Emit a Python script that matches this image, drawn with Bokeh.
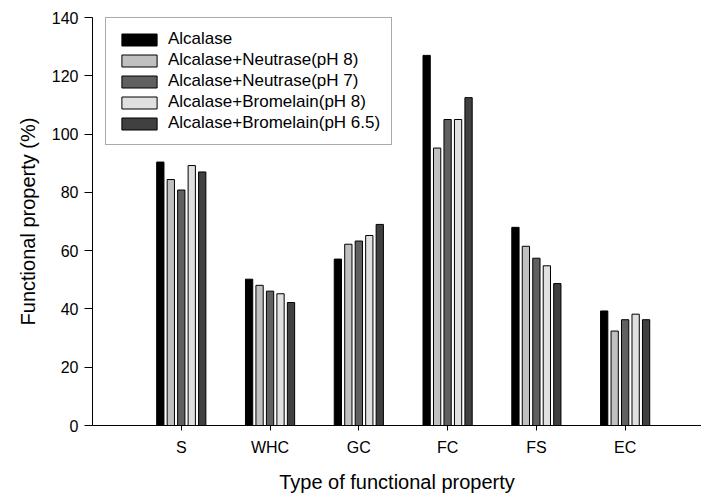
from bokeh.plotting import figure
from bokeh.models import ColumnDataSource, Range1d, FixedTicker, Legend, LegendItem
from bokeh.transform import dodge
from bokeh.embed import file_html
from bokeh.resources import INLINE

categories = ["S", "WHC", "GC", "FC", "FS", "EC"]
series_names = ["Alcalase", "Alcalase+Neutrase(pH 8)", "Alcalase+Neutrase(pH 7)",
                "Alcalase+Bromelain(pH 8)", "Alcalase+Bromelain(pH 6.5)"]
alcalase = [90.4, 50.2, 57.1, 127.0, 68.0, 39.3]
neutrase_ph8 = [84.4, 48.1, 62.2, 95.2, 61.5, 32.4]
neutrase_ph7 = [80.8, 46.1, 63.3, 105.0, 57.4, 36.3]
bromelain_ph8 = [89.2, 45.2, 65.2, 105.0, 54.8, 38.2]
bromelain_ph65 = [87.0, 42.2, 69.0, 112.5, 48.7, 36.3]
y_ticks = [0, 20, 40, 60, 80, 100, 120, 140]

series = [alcalase, neutrase_ph8, neutrase_ph7, bromelain_ph8, bromelain_ph65]
colors = ["#000000", "#c0c0c0", "#606060", "#e0e0e0", "#404040"]
outline = [None, "#000000", "#000000", "#000000", "#000000"]

xpos = list(range(1, len(categories) + 1))
data = {"x": xpos}
for i, s in enumerate(series):
    data[f"s{i}"] = s
source = ColumnDataSource(data)

FONT = "Liberation Sans"

p = figure(width=701, height=495, output_backend="svg", toolbar_location=None,
           x_range=Range1d(0, 6.86), y_range=Range1d(0, 140),
           min_border_left=92, min_border_right=0, min_border_top=17, min_border_bottom=69)
p.outline_line_color = None
p.xgrid.visible = False
p.ygrid.visible = False
p.background_fill_color = "white"
p.border_fill_color = "white"

pitch = 0.118
items = []
for i, name in enumerate(series_names):
    off = (i - 2) * pitch
    r = p.vbar(x=dodge("x", off), top=f"s{i}", width=0.082, bottom=0, source=source,
               fill_color=colors[i], line_color=outline[i] if outline[i] else colors[i],
               line_width=1)
    items.append(LegendItem(label=name, renderers=[r]))

legend = Legend(items=items, location=(13, 280))
legend.border_line_color = "#555555"
legend.border_line_width = 1
legend.background_fill_color = "white"
legend.background_fill_alpha = 1
legend.padding = 11
legend.spacing = 1
legend.margin = 0
legend.glyph_width = 44
legend.glyph_height = 15
legend.label_height = 17
legend.label_standoff = 7
legend.label_text_font = FONT
legend.label_text_font_size = "17px"
legend.label_text_color = "#000000"
p.add_layout(legend, "center")

# y axis
p.yaxis.ticker = FixedTicker(ticks=y_ticks)
p.yaxis.axis_label = "Functional property (%)"
p.yaxis.axis_label_text_font = FONT
p.yaxis.axis_label_text_font_style = "normal"
p.yaxis.axis_label_text_font_size = "20px"
p.yaxis.axis_label_standoff = 10
p.yaxis.major_label_text_font = FONT
p.yaxis.major_label_text_font_size = "16px"
p.yaxis.major_label_standoff = 6
p.yaxis.major_tick_out = 8
p.yaxis.major_tick_in = 0
p.yaxis.minor_tick_out = 0
p.yaxis.minor_tick_in = 0
p.yaxis.axis_line_color = "#000000"
p.yaxis.major_tick_line_color = "#000000"
p.yaxis.major_label_text_color = "#000000"
p.yaxis.axis_label_text_color = "#000000"

# x axis
p.xaxis.ticker = FixedTicker(ticks=xpos)
p.xaxis.major_label_overrides = {x: c for x, c in zip(xpos, categories)}
p.xaxis.axis_label = "Type of functional property"
p.xaxis.axis_label_text_font = FONT
p.xaxis.axis_label_text_font_style = "normal"
p.xaxis.axis_label_text_font_size = "20px"
p.xaxis.axis_label_standoff = 12
p.xaxis.major_label_text_font = FONT
p.xaxis.major_label_text_font_size = "16px"
p.xaxis.major_label_standoff = 8
p.xaxis.major_tick_out = 5
p.xaxis.major_tick_in = 0
p.xaxis.minor_tick_out = 0
p.xaxis.minor_tick_in = 0
p.xaxis.axis_line_color = "#000000"
p.xaxis.major_tick_line_color = "#000000"
p.xaxis.major_label_text_color = "#000000"
p.xaxis.axis_label_text_color = "#000000"

open("out.html", "w").write(file_html(p, INLINE))
